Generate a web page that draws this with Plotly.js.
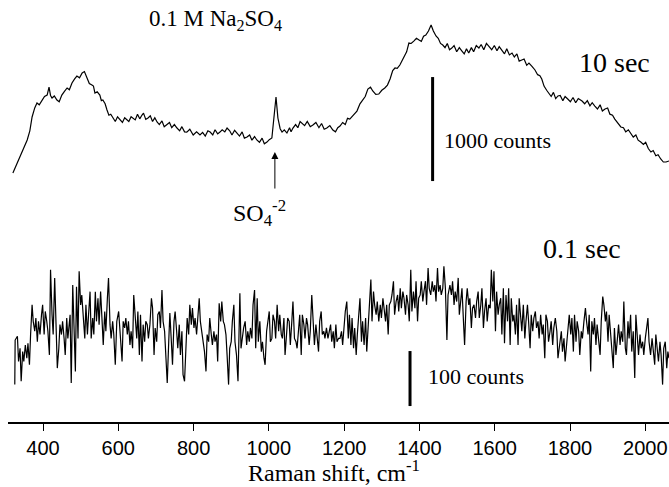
<!DOCTYPE html>
<html>
<head>
<meta charset="utf-8">
<script src="https://cdn.plot.ly/plotly-3.0.1.min.js"></script>
<style>html,body{margin:0;padding:0;background:#fff;}#chart{width:669px;height:487px;}</style>
</head>
<body>
<div id="chart"></div>
<script>
// Raman shift (cm-1) and counts
const tickValues = [400, 600, 800, 1000, 1200, 1400, 1600, 1800, 2000];

// 10 sec spectrum
const shift10 = [320,340,358,365,371,378,384,390,397,404,411,416,420,424,430,437,443,450,457,464,470,477,484,490,497,504,510,517,523,530,534,538,544,551,555,559,565,570,575,580,586,592,598,605,611,617,623,628,634,639,645,651,657,663,667,673,679,685,691,697,703,709,716,722,729,736,742,749,756,763,769,776,782,790,799,808,817,824,831,838,844,851,857,864,870,876,883,889,896,902,909,915,922,929,935,942,949,955,962,968,975,982,988,995,1001,1008,1014,1019,1024,1030,1035,1041,1048,1055,1059,1064,1071,1077,1083,1088,1095,1102,1110,1117,1125,1133,1140,1147,1154,1162,1170,1177,1183,1189,1196,1203,1209,1215,1222,1228,1234,1242,1250,1256,1263,1270,1276,1284,1292,1300,1308,1315,1322,1329,1335,1341,1348,1355,1361,1366,1372,1378,1385,1392,1399,1405,1411,1417,1424,1431,1437,1444,1450,1456,1462,1468,1474,1480,1486,1492,1499,1506,1513,1519,1525,1531,1538,1544,1551,1558,1564,1571,1578,1585,1592,1599,1606,1612,1619,1626,1632,1639,1646,1652,1659,1665,1672,1678,1685,1691,1699,1707,1714,1720,1725,1731,1738,1744,1750,1756,1762,1768,1774,1781,1787,1794,1801,1808,1815,1822,1832,1839,1846,1853,1859,1866,1873,1880,1886,1893,1900,1906,1913,1919,1927,1935,1942,1948,1955,1962,1968,1975,1981,1988,1995,2001,2008,2015,2021,2028,2034,2041,2048,2055,2063];
const counts10 = [2394,2560,2712,2800,2933,3020,3067,3050,3096,3130,3144,3221,3140,3115,3135,3096,3080,3144,3180,3212,3195,3260,3300,3327,3310,3356,3370,3317,3255,3240,3230,3163,3175,3144,3090,3096,3060,3000,2950,2960,2923,2890,2935,2904,2880,2925,2904,2890,2935,2923,2905,2960,2915,2952,2970,2910,2923,2945,2890,2925,2885,2860,2895,2840,2856,2880,2830,2860,2827,2800,2840,2790,2788,2815,2760,2790,2760,2785,2750,2800,2788,2760,2810,2770,2788,2810,2790,2827,2800,2760,2805,2779,2750,2790,2730,2740,2760,2710,2745,2712,2690,2730,2675,2692,2715,2731,2933,3125,2923,2820,2788,2810,2779,2830,2790,2827,2860,2830,2890,2875,2850,2890,2840,2856,2880,2830,2870,2815,2827,2850,2808,2790,2830,2846,2880,2860,2920,2913,2940,2960,2990,3060,3096,3130,3202,3220,3183,3150,3154,3190,3212,3240,3298,3380,3404,3400,3433,3480,3529,3560,3644,3640,3663,3690,3673,3660,3710,3721,3760,3817,3760,3712,3690,3640,3625,3600,3640,3580,3596,3620,3560,3600,3567,3540,3590,3548,3600,3560,3620,3596,3630,3580,3640,3615,3580,3620,3570,3610,3577,3540,3590,3530,3548,3510,3540,3470,3481,3490,3430,3452,3420,3385,3340,3330,3298,3230,3190,3163,3130,3170,3110,3135,3140,3090,3130,3106,3080,3120,3070,3110,3087,3060,3090,3040,3070,3038,3010,3050,2990,3010,3020,2960,2950,2913,2870,2837,2830,2790,2810,2769,2740,2760,2710,2692,2670,2690,2630,2596,2610,2560,2570,2529,2500,2500,2510];

// 0.1 sec spectrum
const shift01 = [325,326,332,335,339,342,346,349,353,357,360,364,367,371,374,378,381,385,388,392,396,399,403,406,410,413,417,420,424,427,431,434,438,442,445,449,452,456,459,463,466,472,475,479,482,486,489,493,496,500,503,507,511,514,518,521,525,528,532,535,539,542,546,549,553,557,560,564,567,571,574,578,581,585,588,592,596,601,
606,610,613,617,620,624,627,631,634,638,641,645,649,652,656,659,663,666,670,673,677,680,684,688,691,695,698,702,705,709,712,716,719,723,726,730,734,737,741,744,748,751,755,758,762,765,769,772,776,780,783,787,790,794,797,801,804,808,811,815,818,822,826,829,833,836,840,843,847,850,854,857,861,864,868,872,875,879,882,886,889,893,
896,900,903,907,910,914,918,921,923,926,930,933,937,941,944,948,951,955,958,962,965,969,972,976,980,983,987,990,994,997,1001,1004,1008,1011,1015,1018,1022,1026,1029,1033,1036,1040,1043,1047,1050,1054,1057,1061,1064,1068,1072,1075,1079,1082,1086,1089,1093,1096,1100,1103,1107,1110,1114,1118,1121,1125,1128,1132,1135,1139,1142,1146,1149,1153,1157,1160,1164,1167,1171,1174,1178,1181,1185,
1189,1193,1196,1200,1203,1207,1211,1214,1218,1221,1225,1228,1232,1235,1239,1242,1246,1249,1253,1257,1260,1264,1267,1271,1274,1278,1281,1285,1288,1292,1296,1299,1303,1306,1310,1313,1317,1320,1324,1327,1331,1334,1338,1342,1345,1349,1352,1356,1359,1363,1366,1370,1373,1377,1380,1384,1388,1391,1395,1398,1402,1405,1409,1412,1416,1419,1423,1426,1430,1434,1437,1441,1444,1448,1451,1455,1458,1462,1465,1469,1473,1476,
1481,1485,1488,1492,1495,1499,1503,1506,1510,1513,1517,1520,1524,1527,1531,1534,1538,1541,1545,1549,1552,1556,1559,1563,1566,1570,1573,1577,1580,1584,1588,1591,1595,1598,1602,1605,1609,1612,1616,1619,1623,1626,1630,1634,1637,1641,1644,1648,1651,1655,1658,1662,1665,1669,1672,1676,1680,1683,1687,1690,1694,1697,1701,1704,1708,1711,1715,1718,1722,1726,1729,1733,1736,1740,1743,1747,1750,1754,1757,1761,1765,1768,
1773,1777,1780,1784,1787,1791,1795,1798,1802,1805,1809,1812,1816,1819,1823,1826,1830,1833,1837,1841,1844,1848,1851,1855,1858,1862,1865,1869,1872,1876,1880,1883,1887,1890,1894,1897,1901,1904,1908,1911,1915,1918,1922,1926,1929,1933,1936,1940,1943,1947,1950,1954,1957,1961,1964,1968,1972,1975,1979,1982,1986,1989,1993,1996,2000,2003,2007,2010,2014,2018,2021,2025,2028,2032,2035,2039,2042,2046,2049,2053,2057,2060,2063];
const counts01 = [68,149,156,110,134,74,128,110,140,116,143,104,159,213,183,165,189,146,183,159,195,213,159,201,183,165,122,277,195,159,262,183,98,134,177,159,183,152,122,189,152,195,71,249,183,92,246,152,274,213,231,183,152,213,159,195,237,152,189,159,237,183,225,177,237,183,140,201,165,225,262,177,152,183,159,104,183,201,
159,110,183,171,189,159,183,140,165,134,231,195,152,201,122,195,110,177,146,183,177,152,177,225,207,122,171,146,195,201,171,240,183,165,122,71,146,198,146,104,183,201,165,134,177,122,165,86,74,146,189,159,213,177,207,171,189,159,189,225,183,165,146,128,92,159,146,189,159,140,165,146,159,110,216,183,219,183,177,159,122,68,
134,146,183,213,146,122,74,146,234,134,159,171,183,140,165,146,171,152,213,240,134,225,146,183,128,146,116,104,165,183,201,146,152,195,183,152,213,165,195,159,152,189,122,159,189,183,140,183,219,152,146,134,171,195,122,195,177,152,189,177,140,165,231,183,140,177,152,128,183,201,159,165,152,171,152,165,177,146,165,134,177,146,152,
152,165,140,183,201,219,152,195,140,189,134,171,122,159,207,225,146,183,140,189,128,183,207,259,183,237,213,195,219,183,213,189,225,201,183,213,159,213,219,231,256,195,219,231,201,243,207,237,225,195,231,213,183,277,201,237,207,256,183,225,231,256,219,237,256,213,280,243,231,256,237,249,219,280,237,249,231,243,283,243,149,231,
249,231,256,213,237,219,262,195,231,243,183,140,219,243,213,225,171,207,213,189,219,237,189,213,243,171,201,225,183,213,207,277,219,274,165,237,195,213,225,159,243,143,231,183,243,140,225,183,195,159,213,140,225,195,165,213,152,183,213,183,134,195,165,189,201,171,183,152,195,159,177,116,195,183,146,165,183,140,171,189,165,116,
146,165,128,152,110,140,183,195,159,189,128,195,146,183,165,122,165,152,183,207,183,159,195,92,183,159,189,140,177,152,122,183,228,213,183,201,146,195,165,134,98,171,122,152,177,140,165,146,219,134,122,183,152,195,128,165,80,195,146,122,159,134,146,122,152,171,189,146,122,152,134,104,159,134,110,146,122,68,134,146,98,128,116];

// scale bars (shift position, bottom count, length in counts)
const bar10 = {shift: 1435, start: 2317, counts: 1000};
const bar01 = {shift: 1375, start: 29, counts: 100};

const serif = 'Liberation Serif, Times New Roman, serif';
const sans = 'Liberation Sans, Arial, sans-serif';

const traces = [
  {x: shift10, y: counts10, yaxis: 'y2', type: 'scatter', mode: 'lines',
   line: {color: '#000', width: 1.2}, hoverinfo: 'skip'},
  {x: shift01, y: counts01, yaxis: 'y', type: 'scatter', mode: 'lines',
   line: {color: '#000', width: 1.2}, hoverinfo: 'skip'},
  {x: [bar10.shift, bar10.shift], y: [bar10.start, bar10.start + bar10.counts], yaxis: 'y2',
   type: 'scatter', mode: 'lines', line: {color: '#000', width: 3}, hoverinfo: 'skip'},
  {x: [bar01.shift, bar01.shift], y: [bar01.start, bar01.start + bar01.counts], yaxis: 'y',
   type: 'scatter', mode: 'lines', line: {color: '#000', width: 3}, hoverinfo: 'skip'}
];

const layout = {
  width: 669, height: 487,
  margin: {l: 8, r: 0, t: 0, b: 65},
  paper_bgcolor: '#fff', plot_bgcolor: '#fff',
  showlegend: false,
  xaxis: {
    range: [307, 2063], tickvals: tickValues, ticktext: tickValues.map(String),
    ticks: 'outside', ticklen: 7, tickwidth: 1, tickcolor: '#000',
    showline: true, linewidth: 2, linecolor: '#000',
    showgrid: false, zeroline: false, automargin: false,
    tickfont: {family: sans, size: 20, color: '#000'}
  },
  yaxis: {range: [0, 767.3], visible: false, fixedrange: true},
  yaxis2: {range: [0, 4058], overlaying: 'y', visible: false, fixedrange: true},
  annotations: [
    {text: 'Raman shift, cm<sup>-1</sup>', x: 1173, y: -0.117, xref: 'x', yref: 'paper', yanchor: 'middle',
     showarrow: false, font: {family: serif, size: 24, color: '#000'}},
    {text: '0.1 M Na<sub>2</sub>SO<sub>4</sub>', x: 857, y: 0.953, xref: 'x', yref: 'paper', yanchor: 'middle',
     showarrow: false, font: {family: serif, size: 23, color: '#000'}},
    {text: '10 sec', x: 1919, y: 0.851, xref: 'x', yref: 'paper', yanchor: 'middle',
     showarrow: false, font: {family: serif, size: 28, color: '#000'}},
    {text: '1000 counts', x: 1460, y: 0.668, xref: 'x', yref: 'paper', xanchor: 'left', yanchor: 'middle',
     showarrow: false, font: {family: serif, size: 22, color: '#000'}},
    {text: 'SO<sub>4</sub><sup>-2</sup>', x: 976, y: 0.495, xref: 'x', yref: 'paper', yanchor: 'middle',
     showarrow: false, font: {family: serif, size: 24, color: '#000'}},
    {text: '', x: 1016, y: 2596, xref: 'x', yref: 'y2', ax: 0, ay: 38,
     showarrow: true, arrowhead: 2, arrowsize: 1.4, arrowwidth: 1, arrowcolor: '#000'},
    {text: '0.1 sec', x: 1832, y: 0.412, xref: 'x', yref: 'paper', yanchor: 'middle',
     showarrow: false, font: {family: serif, size: 28, color: '#000'}},
    {text: '100 counts', x: 1417, y: 0.107, xref: 'x', yref: 'paper', xanchor: 'left', yanchor: 'middle',
     showarrow: false, font: {family: serif, size: 22, color: '#000'}}
  ]
};

Plotly.newPlot('chart', traces, layout, {displayModeBar: false, staticPlot: true});
</script>
</body>
</html>
